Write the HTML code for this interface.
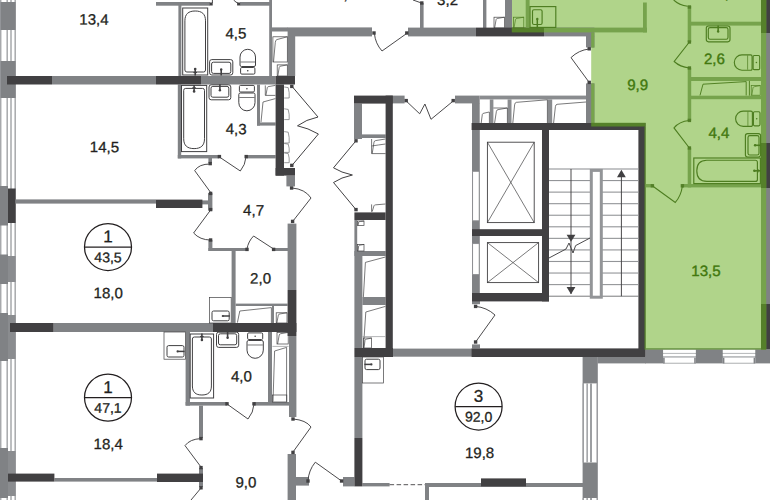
<!DOCTYPE html>
<html lang="ru">
<head>
<meta charset="utf-8">
<title>План этажа</title>
<style>
html,body{margin:0;padding:0;background:#fff;}
body{width:770px;height:500px;overflow:hidden;}
svg{display:block;}
svg text{font-family:"Liberation Sans",Arial,Helvetica,sans-serif;}
</style>
</head>
<body>
<svg width="770" height="500" viewBox="0 0 770 500">
<rect x="0" y="0" width="770" height="500" fill="#fff"/>
<path d="M511.8,0 L770,0 L770,348.6 L644.5,348.6 L644.5,126.4 L591.2,126.4 L591.2,32.4 L511.8,32.4 Z" fill="#b0d48a"/>
<rect x="0.00" y="0.00" width="16.00" height="500.00" fill="#fff"/>
<rect x="-0.05" y="0.00" width="1.50" height="500.00" fill="#a7a9ac"/>
<rect x="6.45" y="0.00" width="1.50" height="500.00" fill="#a7a9ac"/>
<rect x="10.25" y="0.00" width="1.50" height="500.00" fill="#a7a9ac"/>
<rect x="14.45" y="0.00" width="1.50" height="500.00" fill="#a7a9ac"/>
<rect x="0.50" y="2.00" width="15.10" height="28.00" fill="#808285"/>
<rect x="0.50" y="61.00" width="15.10" height="37.00" fill="#808285"/>
<rect x="0.00" y="186.00" width="8.00" height="39.50" fill="#808285"/>
<rect x="8.00" y="188.50" width="7.60" height="34.50" fill="#414042"/>
<rect x="0.00" y="254.50" width="8.00" height="29.50" fill="#808285"/>
<rect x="8.00" y="256.00" width="7.60" height="26.00" fill="#8a8c8f"/>
<rect x="0.00" y="313.00" width="8.00" height="48.00" fill="#808285"/>
<rect x="8.00" y="315.00" width="7.60" height="44.00" fill="#8a8c8f"/>
<rect x="0.00" y="448.00" width="8.00" height="50.00" fill="#808285"/>
<rect x="8.00" y="451.00" width="7.60" height="45.00" fill="#8a8c8f"/>
<rect x="52.00" y="76.00" width="104.00" height="8.50" fill="#808285"/>
<rect x="201.00" y="76.00" width="74.60" height="8.50" fill="#808285"/>
<rect x="156.00" y="2.00" width="54.00" height="3.70" fill="#808285"/>
<rect x="240.00" y="2.00" width="32.00" height="3.70" fill="#808285"/>
<rect x="178.40" y="3.00" width="3.00" height="73.00" fill="#808285"/>
<rect x="177.80" y="84.50" width="3.40" height="73.90" fill="#808285"/>
<rect x="269.20" y="0.00" width="2.80" height="76.00" fill="#808285"/>
<rect x="272.00" y="27.40" width="16.00" height="4.10" fill="#808285"/>
<rect x="287.60" y="27.40" width="84.40" height="9.00" fill="#808285"/>
<rect x="287.60" y="36.00" width="7.60" height="40.00" fill="#808285"/>
<rect x="408.00" y="27.60" width="68.00" height="8.80" fill="#808285"/>
<rect x="544.00" y="27.60" width="50.40" height="8.80" fill="#808285"/>
<rect x="420.00" y="3.00" width="3.60" height="25.00" fill="#808285"/>
<rect x="483.00" y="0.00" width="3.40" height="28.00" fill="#808285"/>
<rect x="505.00" y="0.00" width="7.00" height="28.00" fill="#808285"/>
<rect x="586.00" y="36.00" width="8.40" height="11.40" fill="#808285"/>
<rect x="586.00" y="83.40" width="8.40" height="39.60" fill="#808285"/>
<rect x="392.80" y="95.60" width="11.80" height="7.80" fill="#808285"/>
<rect x="455.00" y="95.60" width="24.70" height="7.80" fill="#808285"/>
<rect x="479.70" y="95.60" width="106.30" height="3.80" fill="#8a8c8f"/>
<rect x="472.00" y="103.00" width="7.70" height="20.00" fill="#808285"/>
<rect x="489.80" y="99.40" width="3.60" height="23.60" fill="#8a8c8f"/>
<rect x="507.60" y="99.40" width="3.90" height="23.60" fill="#8a8c8f"/>
<rect x="547.60" y="99.40" width="4.60" height="23.60" fill="#8a8c8f"/>
<rect x="472.00" y="130.00" width="7.80" height="171.00" fill="#808285"/>
<rect x="472.6" y="171.3" width="6.6" height="49.5" fill="#fff" stroke="#8a8c8f" stroke-width="0.9"/>
<rect x="472.6" y="243.6" width="6.6" height="31" fill="#fff" stroke="#8a8c8f" stroke-width="0.9"/>
<rect x="354.00" y="103.60" width="8.00" height="35.40" fill="#808285"/>
<rect x="362.00" y="134.40" width="23.60" height="3.60" fill="#808285"/>
<rect x="177.80" y="155.00" width="41.20" height="3.40" fill="#808285"/>
<rect x="246.40" y="155.00" width="29.20" height="3.40" fill="#808285"/>
<rect x="257.00" y="84.50" width="3.00" height="41.10" fill="#808285"/>
<rect x="257.00" y="122.40" width="18.60" height="3.20" fill="#808285"/>
<rect x="286.40" y="175.60" width="8.60" height="10.80" fill="#808285"/>
<rect x="15.50" y="199.40" width="140.50" height="4.20" fill="#808285"/>
<rect x="202.00" y="200.40" width="7.00" height="4.00" fill="#808285"/>
<rect x="208.00" y="193.00" width="4.40" height="17.60" fill="#808285"/>
<rect x="208.40" y="240.00" width="4.00" height="11.00" fill="#808285"/>
<rect x="208.40" y="248.00" width="38.60" height="3.00" fill="#808285"/>
<rect x="274.00" y="248.00" width="14.00" height="3.00" fill="#808285"/>
<rect x="231.60" y="251.00" width="4.00" height="72.00" fill="#808285"/>
<rect x="287.60" y="223.60" width="8.80" height="66.40" fill="#808285"/>
<rect x="289.00" y="336.00" width="7.40" height="81.00" fill="#808285"/>
<rect x="235.60" y="303.60" width="52.00" height="2.40" fill="#808285"/>
<rect x="272.00" y="306.00" width="2.00" height="17.00" fill="#808285"/>
<rect x="53.60" y="323.00" width="159.40" height="9.00" fill="#808285"/>
<rect x="185.60" y="332.00" width="4.40" height="73.60" fill="#808285"/>
<rect x="268.00" y="332.00" width="4.00" height="70.00" fill="#808285"/>
<rect x="185.60" y="402.00" width="41.40" height="3.60" fill="#808285"/>
<rect x="254.00" y="402.00" width="35.00" height="3.60" fill="#808285"/>
<rect x="199.00" y="405.60" width="4.00" height="32.40" fill="#808285"/>
<rect x="199.00" y="468.00" width="4.00" height="19.00" fill="#808285"/>
<rect x="54.40" y="478.00" width="102.60" height="3.60" fill="#808285"/>
<rect x="287.60" y="454.00" width="8.40" height="46.00" fill="#808285"/>
<rect x="296.00" y="477.00" width="13.00" height="8.60" fill="#808285"/>
<rect x="343.00" y="477.00" width="11.40" height="9.40" fill="#808285"/>
<rect x="354.40" y="220.00" width="2.80" height="31.00" fill="#808285"/>
<rect x="354.40" y="251.00" width="8.00" height="97.00" fill="#808285"/>
<rect x="354.40" y="251.00" width="31.20" height="5.00" fill="#808285"/>
<rect x="362.40" y="297.00" width="23.20" height="8.00" fill="#808285"/>
<rect x="354.40" y="357.00" width="8.00" height="81.00" fill="#808285"/>
<rect x="392.80" y="348.60" width="79.20" height="8.10" fill="#808285"/>
<rect x="472.00" y="301.00" width="8.00" height="3.20" fill="#808285"/>
<rect x="472.00" y="344.40" width="8.00" height="4.00" fill="#808285"/>
<rect x="582.60" y="357.00" width="15.20" height="143.00" fill="#808285"/>
<rect x="597.60" y="357.00" width="48.40" height="6.40" fill="#808285"/>
<rect x="645.20" y="348.10" width="124.80" height="15.30" fill="#808285"/>
<rect x="362.40" y="483.00" width="27.20" height="3.40" fill="#808285"/>
<rect x="425.00" y="483.00" width="158.00" height="4.00" fill="#808285"/>
<rect x="425.00" y="483.00" width="4.00" height="17.00" fill="#808285"/>
<path d="M389.6,484.7 L425,484.7" stroke="#414042" stroke-width="0.9" stroke-dasharray="4.5,2.5" fill="none"/>
<rect x="583.80" y="383.40" width="13.00" height="79.10" fill="#fff"/>
<rect x="582.60" y="383.40" width="1.40" height="79.10" fill="#9d9fa2"/>
<rect x="586.40" y="383.40" width="1.50" height="79.10" fill="#9d9fa2"/>
<rect x="590.00" y="383.40" width="2.00" height="79.10" fill="#9d9fa2"/>
<rect x="596.60" y="383.40" width="1.20" height="79.10" fill="#9d9fa2"/>
<rect x="583.80" y="498.00" width="13.00" height="2.00" fill="#fff"/>
<rect x="582.60" y="498.00" width="1.40" height="2.00" fill="#9d9fa2"/>
<rect x="586.40" y="498.00" width="1.50" height="2.00" fill="#9d9fa2"/>
<rect x="590.00" y="498.00" width="2.00" height="2.00" fill="#9d9fa2"/>
<rect x="596.60" y="498.00" width="1.20" height="2.00" fill="#9d9fa2"/>
<rect x="663.10" y="349.70" width="32.70" height="13.70" fill="#b5b7b9"/>
<rect x="663.10" y="349.70" width="32.70" height="3.20" fill="#fff"/>
<rect x="663.10" y="353.90" width="32.70" height="2.20" fill="#fff"/>
<rect x="663.10" y="357.70" width="32.70" height="5.00" fill="#fff"/>
<rect x="663.10" y="357.70" width="1.60" height="5.70" fill="#808285"/>
<rect x="694.20" y="357.70" width="1.60" height="5.70" fill="#808285"/>
<rect x="722.80" y="349.70" width="32.40" height="13.70" fill="#b5b7b9"/>
<rect x="722.80" y="349.70" width="32.40" height="3.20" fill="#fff"/>
<rect x="722.80" y="353.90" width="32.40" height="2.20" fill="#fff"/>
<rect x="722.80" y="357.70" width="32.40" height="5.00" fill="#fff"/>
<rect x="722.80" y="357.70" width="1.60" height="5.70" fill="#808285"/>
<rect x="753.60" y="357.70" width="1.60" height="5.70" fill="#808285"/>
<rect x="761.00" y="0.00" width="9.00" height="349.00" fill="#808285"/>
<rect x="7.00" y="76.00" width="45.00" height="8.50" fill="#414042"/>
<rect x="156.00" y="76.00" width="45.00" height="8.50" fill="#414042"/>
<rect x="275.60" y="76.00" width="19.40" height="8.50" fill="#414042"/>
<rect x="275.60" y="84.50" width="8.40" height="91.10" fill="#414042"/>
<rect x="275.60" y="168.00" width="19.40" height="7.60" fill="#414042"/>
<rect x="476.00" y="27.60" width="68.00" height="8.80" fill="#414042"/>
<rect x="354.00" y="95.60" width="38.80" height="8.00" fill="#414042"/>
<rect x="385.60" y="95.60" width="7.20" height="261.40" fill="#414042"/>
<rect x="354.40" y="212.40" width="31.20" height="7.60" fill="#414042"/>
<rect x="354.40" y="348.00" width="38.60" height="9.00" fill="#414042"/>
<rect x="156.00" y="199.60" width="46.40" height="8.40" fill="#414042"/>
<rect x="471.60" y="123.00" width="173.60" height="7.00" fill="#414042"/>
<rect x="542.00" y="130.00" width="7.00" height="171.40" fill="#414042"/>
<rect x="472.00" y="229.20" width="77.00" height="6.80" fill="#414042"/>
<rect x="472.00" y="293.00" width="77.00" height="8.40" fill="#414042"/>
<rect x="638.40" y="123.00" width="6.80" height="233.60" fill="#414042"/>
<rect x="471.60" y="348.40" width="173.60" height="8.60" fill="#414042"/>
<rect x="287.60" y="290.00" width="8.80" height="46.00" fill="#414042"/>
<rect x="213.00" y="323.00" width="83.40" height="9.00" fill="#414042"/>
<rect x="10.00" y="323.00" width="43.60" height="9.00" fill="#414042"/>
<rect x="8.00" y="473.60" width="46.40" height="8.00" fill="#414042"/>
<rect x="157.00" y="473.60" width="46.00" height="8.40" fill="#414042"/>
<rect x="354.40" y="438.00" width="8.00" height="48.40" fill="#414042"/>
<rect x="481.00" y="478.40" width="45.00" height="8.00" fill="#414042"/>
<rect x="761.00" y="0.00" width="9.00" height="33.00" fill="#414042"/>
<rect x="761.00" y="143.00" width="9.00" height="45.00" fill="#414042"/>
<rect x="761.00" y="304.00" width="9.00" height="45.00" fill="#414042"/>
<rect x="511.80" y="27.60" width="32.20" height="4.80" fill="#55802a"/>
<rect x="544.00" y="27.60" width="103.00" height="4.80" fill="#76a34c"/>
<rect x="591.20" y="32.40" width="3.20" height="15.20" fill="#76a34c"/>
<rect x="591.20" y="83.40" width="3.20" height="39.60" fill="#76a34c"/>
<rect x="591.20" y="122.80" width="54.50" height="3.70" fill="#55802a"/>
<rect x="644.50" y="126.40" width="1.20" height="223.20" fill="#55802a"/>
<rect x="645.70" y="348.10" width="115.30" height="1.50" fill="#76a34c"/>
<rect x="761.00" y="0.00" width="5.20" height="349.60" fill="#76a34c"/>
<rect x="761.00" y="0.00" width="5.20" height="33.00" fill="#55802a"/>
<rect x="761.00" y="143.00" width="5.20" height="45.00" fill="#55802a"/>
<rect x="761.00" y="304.00" width="5.20" height="45.60" fill="#55802a"/>
<rect x="525.70" y="0.00" width="3.90" height="27.60" fill="#76a34c"/>
<rect x="643.00" y="2.50" width="3.80" height="29.90" fill="#76a34c"/>
<rect x="687.70" y="6.00" width="3.50" height="36.00" fill="#76a34c"/>
<rect x="687.70" y="68.00" width="3.50" height="52.50" fill="#76a34c"/>
<rect x="687.70" y="147.80" width="3.50" height="39.60" fill="#76a34c"/>
<rect x="691.00" y="21.70" width="70.00" height="3.90" fill="#76a34c"/>
<rect x="691.00" y="77.00" width="70.00" height="4.00" fill="#76a34c"/>
<rect x="691.00" y="95.70" width="70.00" height="3.50" fill="#76a34c"/>
<rect x="681.60" y="184.00" width="79.40" height="3.40" fill="#76a34c"/>
<rect x="645.70" y="184.00" width="7.10" height="3.40" fill="#76a34c"/>
<rect x="549.00" y="168.45" width="89.40" height="1.10" fill="#939598"/>
<rect x="549.00" y="180.01" width="89.40" height="1.10" fill="#939598"/>
<rect x="549.00" y="191.57" width="89.40" height="1.10" fill="#939598"/>
<rect x="549.00" y="203.13" width="89.40" height="1.10" fill="#939598"/>
<rect x="549.00" y="214.69" width="89.40" height="1.10" fill="#939598"/>
<rect x="549.00" y="226.25" width="89.40" height="1.10" fill="#939598"/>
<rect x="549.00" y="237.81" width="89.40" height="1.10" fill="#939598"/>
<rect x="549.00" y="249.37" width="89.40" height="1.10" fill="#939598"/>
<rect x="549.00" y="260.93" width="89.40" height="1.10" fill="#939598"/>
<rect x="549.00" y="272.49" width="89.40" height="1.10" fill="#939598"/>
<rect x="549.00" y="284.05" width="89.40" height="1.10" fill="#939598"/>
<rect x="549.00" y="295.76" width="89.40" height="0.80" fill="#58595b"/>
<rect x="591.3" y="170.4" width="10" height="126.8" fill="#fff" stroke="#939598" stroke-width="3"/>
<path d="M571.00,169.00 L571.00,294.00" fill="none" stroke="#414042" stroke-width="0.95" />
<path d="M621.40,172.00 L621.40,296.20" fill="none" stroke="#414042" stroke-width="0.95" />
<path d="M566.6,234.8 L575.4,234.8 L571,241.8 Z" fill="#414042" stroke="none" stroke-width="0" />
<path d="M566.6,287 L575.4,287 L571,294.2 Z" fill="#414042" stroke="none" stroke-width="0" />
<path d="M617,177.2 L625.8,177.2 L621.4,169.8 Z" fill="#414042" stroke="none" stroke-width="0" />
<path d="M549.00,258.00 L566.00,249.00 L569.00,243.00 L573.00,253.00 L575.60,245.60 L590.00,238.00" fill="none" stroke="#414042" stroke-width="0.95" />
<rect x="487.4" y="142.2" width="46.8" height="80.4" fill="none" stroke="#414042" stroke-width="0.9"/>
<path d="M487.40,142.20 L534.20,222.60" fill="none" stroke="#414042" stroke-width="0.7" />
<path d="M534.20,142.20 L487.40,222.60" fill="none" stroke="#414042" stroke-width="0.7" />
<rect x="487.4" y="242.6" width="51.2" height="40" fill="none" stroke="#414042" stroke-width="0.9"/>
<path d="M487.40,242.60 L538.60,282.60" fill="none" stroke="#414042" stroke-width="0.7" />
<path d="M538.60,242.60 L487.40,282.60" fill="none" stroke="#414042" stroke-width="0.7" />
<rect x="209.70" y="2.50" width="3.00" height="3.00" fill="#414042"/>
<rect x="237.10" y="2.50" width="3.00" height="3.00" fill="#414042"/>
<path d="M212.4,0 L212.4,3" fill="none" stroke="#414042" stroke-width="0.95" />
<path d="M233.6,0 Q236,2.5 238.4,3.4" fill="none" stroke="#414042" stroke-width="0.95" />
<rect x="372.30" y="31.30" width="3.40" height="3.40" fill="#414042"/>
<rect x="405.10" y="31.30" width="3.40" height="3.40" fill="#414042"/>
<path d="M406.80,33.40 L382.00,51.00 A30.41,30.41 0 0 1 374.40,33.40" fill="none" stroke="#414042" stroke-width="0.95" />
<rect x="420.10" y="1.30" width="3.40" height="3.40" fill="#414042"/>
<path d="M413,0 L421.5,3" fill="none" stroke="#414042" stroke-width="0.95" />
<rect x="587.50" y="47.10" width="3.40" height="3.40" fill="#414042"/>
<rect x="587.50" y="80.70" width="3.40" height="3.40" fill="#414042"/>
<path d="M589.20,82.40 L571.00,57.60 A30.76,30.76 0 0 1 589.20,49.00" fill="none" stroke="#414042" stroke-width="0.95" />
<rect x="404.50" y="98.90" width="3.40" height="3.40" fill="#414042"/>
<rect x="451.50" y="98.90" width="3.40" height="3.40" fill="#414042"/>
<path d="M406.20,101.00 L419.70,113.80 L424.90,104.00 L431.00,119.30 L453.20,101.00" fill="none" stroke="#414042" stroke-width="0.95" />
<rect x="354.30" y="139.10" width="3.40" height="3.40" fill="#414042"/>
<rect x="354.30" y="207.90" width="3.40" height="3.40" fill="#414042"/>
<path d="M356,140.8 L333.5,167.8 Q341,172.6 352.4,175 Q341,177.4 333.5,182.5 L356,209.6" fill="none" stroke="#414042" stroke-width="1.0" />
<rect x="290.10" y="84.70" width="3.40" height="3.40" fill="#414042"/>
<rect x="290.10" y="163.70" width="3.40" height="3.40" fill="#414042"/>
<path d="M292,86.4 L318,117 Q306,119.5 297.5,125.8 Q308,128 318.4,134 L292,165.4" fill="none" stroke="#414042" stroke-width="1.0" />
<rect x="289.90" y="186.30" width="3.40" height="3.40" fill="#414042"/>
<rect x="290.90" y="219.70" width="3.40" height="3.40" fill="#414042"/>
<path d="M292,188 Q305,189 311,198 L293,221" fill="none" stroke="#414042" stroke-width="0.95" />
<rect x="217.70" y="154.90" width="3.40" height="3.40" fill="#414042"/>
<rect x="244.50" y="154.90" width="3.40" height="3.40" fill="#414042"/>
<path d="M219.40,157.00 L240.30,171.00 A25.16,25.16 0 0 0 246.00,157.00" fill="none" stroke="#414042" stroke-width="0.95" />
<rect x="208.40" y="158.00" width="3.60" height="5.00" fill="#808285"/>
<rect x="208.50" y="161.90" width="3.40" height="3.40" fill="#414042"/>
<path d="M210.2,164 Q199,164 194.7,170.6 L210.8,192.7" fill="none" stroke="#414042" stroke-width="0.95" />
<rect x="208.90" y="191.70" width="3.40" height="3.40" fill="#414042"/>
<rect x="208.90" y="207.90" width="3.40" height="3.40" fill="#414042"/>
<rect x="208.90" y="238.30" width="3.40" height="3.40" fill="#414042"/>
<path d="M210.6,210 L193.6,233 Q200,240 210.6,240" fill="none" stroke="#414042" stroke-width="0.95" />
<rect x="245.30" y="247.70" width="3.40" height="3.40" fill="#414042"/>
<rect x="271.90" y="247.70" width="3.40" height="3.40" fill="#414042"/>
<path d="M273.60,249.00 L253.60,236.00 A23.85,23.85 0 0 0 247.00,249.00" fill="none" stroke="#414042" stroke-width="0.95" />
<rect x="225.30" y="402.10" width="3.40" height="3.40" fill="#414042"/>
<rect x="252.30" y="402.10" width="3.40" height="3.40" fill="#414042"/>
<path d="M227.00,404.00 L248.00,419.00 A25.81,25.81 0 0 0 254.00,404.00" fill="none" stroke="#414042" stroke-width="0.95" />
<rect x="199.30" y="436.90" width="3.40" height="3.40" fill="#414042"/>
<rect x="199.30" y="465.90" width="3.40" height="3.40" fill="#414042"/>
<path d="M201,438.6 Q190,439 185,445.6 L201,467" fill="none" stroke="#414042" stroke-width="0.95" />
<rect x="199.30" y="486.10" width="3.40" height="3.40" fill="#414042"/>
<path d="M201.00,488.00 L191.00,500.00" fill="none" stroke="#414042" stroke-width="0.95" />
<rect x="291.30" y="417.30" width="3.40" height="3.40" fill="#414042"/>
<rect x="291.30" y="450.70" width="3.40" height="3.40" fill="#414042"/>
<path d="M293,419 Q306,420 311,427 L293,452" fill="none" stroke="#414042" stroke-width="0.95" />
<rect x="306.30" y="479.30" width="3.40" height="3.40" fill="#414042"/>
<rect x="339.90" y="479.30" width="3.40" height="3.40" fill="#414042"/>
<path d="M341.60,481.00 L315.30,462.20 A32.33,32.33 0 0 0 308.00,481.00" fill="none" stroke="#414042" stroke-width="0.95" />
<rect x="473.90" y="304.70" width="3.40" height="3.40" fill="#414042"/>
<rect x="473.90" y="340.30" width="3.40" height="3.40" fill="#414042"/>
<path d="M475.60,342.00 L495.00,315.00 A33.25,33.25 0 0 0 475.60,306.40" fill="none" stroke="#414042" stroke-width="0.95" />
<path d="M673.7,0 Q679,5 687.7,6.2" fill="none" stroke="#4d7d20" stroke-width="1.1" />
<rect x="687.70" y="5.30" width="3.40" height="3.40" fill="#55802a"/>
<rect x="687.70" y="40.30" width="3.40" height="3.40" fill="#55802a"/>
<rect x="687.70" y="66.30" width="3.40" height="3.40" fill="#55802a"/>
<path d="M689.4,42 L674.2,61.5 Q680,67 689.4,68" fill="none" stroke="#4d7d20" stroke-width="1.1" />
<rect x="687.70" y="118.70" width="3.40" height="3.40" fill="#55802a"/>
<rect x="687.70" y="146.30" width="3.40" height="3.40" fill="#55802a"/>
<path d="M689.4,148 L674,127.9 Q679,121.5 689.4,120.5" fill="none" stroke="#4d7d20" stroke-width="1.1" />
<rect x="650.70" y="184.10" width="3.40" height="3.40" fill="#55802a"/>
<rect x="680.70" y="184.10" width="3.40" height="3.40" fill="#55802a"/>
<path d="M652.6,186 L675.3,202.4 Q681,196 682.4,186" fill="none" stroke="#4d7d20" stroke-width="1.1" />
<g transform="translate(182.7,8)"><rect x="0" y="0" width="25" height="67" fill="none" stroke="#414042" stroke-width="1.0"/><path d="M2.2,62.0 L2.2,12.785 C2.2,5.935499999999999 5.805,3.0 12.5,3.0 C19.195,3.0 22.8,5.935499999999999 22.8,12.785 L22.8,62.0 Q22.8,64.0 20.8,64.0 L4.2,64.0 Q2.2,64.0 2.2,62.0 Z" fill="none" stroke="#414042" stroke-width="1.0"/><path d="M12.5,60.5 L12.5,67.5" stroke="#414042" stroke-width="1.6" fill="none"/><circle cx="12.5" cy="61" r="1.3" fill="#414042"/><path d="M10.7,64.5 L14.3,64.5" stroke="#414042" stroke-width="1.2" fill="none"/></g>
<g transform="translate(209.6,59.6)"><rect x="0" y="0" width="23.2" height="15.4" rx="2.2" fill="none" stroke="#414042" stroke-width="1.0"/><rect x="2" y="2.6" width="19.2" height="11.2" rx="1.8" fill="none" stroke="#414042" stroke-width="1.0"/><path d="M11.6,9.4 L11.6,15.9" stroke="#414042" stroke-width="1.6" fill="none"/><circle cx="11.6" cy="9.9" r="1.2" fill="#414042"/></g>
<g transform="translate(240,49.3)"><rect x="0.6" y="18.2" width="14.3" height="6.6" rx="1.2" fill="none" stroke="#414042" stroke-width="1.0"/><path d="M0,15.7 L0,7.75 A7.75,7.75 0 0 1 15.5,7.75 L15.5,15.7 Q15.5,17.2 14.0,17.2 L1.5,17.2 Q0,17.2 0,15.7 Z" fill="none" stroke="#414042" stroke-width="1.0"/><path d="M0.5,12.7 L15.0,12.7" stroke="#414042" stroke-width="0.7" fill="none"/><circle cx="7.75" cy="21.5" r="0.8" fill="#414042"/></g>
<g transform="translate(181.5,151.6) scale(1,-1)"><rect x="0" y="0" width="25.2" height="66.2" fill="none" stroke="#414042" stroke-width="1.0"/><path d="M2.2,61.2 L2.2,12.879999999999999 C2.2,5.9639999999999995 5.84,3.0 12.600000000000001,3.0 C19.36,3.0 23.0,5.9639999999999995 23.0,12.879999999999999 L23.0,61.2 Q23.0,63.2 21.0,63.2 L4.2,63.2 Q2.2,63.2 2.2,61.2 Z" fill="none" stroke="#414042" stroke-width="1.0"/><path d="M12.6,59.7 L12.6,66.7" stroke="#414042" stroke-width="1.6" fill="none"/><circle cx="12.6" cy="60.2" r="1.3" fill="#414042"/><path d="M10.799999999999999,63.7 L14.4,63.7" stroke="#414042" stroke-width="1.2" fill="none"/></g>
<g transform="translate(209,99.8) scale(1,-1)"><rect x="0" y="0" width="21.8" height="15.0" rx="2.2" fill="none" stroke="#414042" stroke-width="1.0"/><rect x="2" y="2.6" width="17.8" height="10.8" rx="1.8" fill="none" stroke="#414042" stroke-width="1.0"/><path d="M10.9,9.0 L10.9,15.5" stroke="#414042" stroke-width="1.6" fill="none"/><circle cx="10.9" cy="9.5" r="1.2" fill="#414042"/></g>
<g transform="translate(238.8,110.8) scale(1,-1)"><rect x="0.6" y="18.8" width="15.0" height="6.6" rx="1.2" fill="none" stroke="#414042" stroke-width="1.0"/><path d="M0,16.3 L0,8.1 A8.1,8.1 0 0 1 16.2,8.1 L16.2,16.3 Q16.2,17.8 14.7,17.8 L1.5,17.8 Q0,17.8 0,16.3 Z" fill="none" stroke="#414042" stroke-width="1.0"/><path d="M0.5,13.3 L15.7,13.3" stroke="#414042" stroke-width="0.7" fill="none"/><circle cx="8.1" cy="22.099999999999998" r="0.8" fill="#414042"/></g>
<g transform="translate(190.2,398) scale(1,-1)"><rect x="0" y="0" width="23.4" height="64" fill="none" stroke="#414042" stroke-width="1.0"/><path d="M2.2,59.0 L2.2,12.025 C2.2,5.7075 5.525,3.0 11.7,3.0 C17.875,3.0 21.2,5.7075 21.2,12.025 L21.2,59.0 Q21.2,61.0 19.2,61.0 L4.2,61.0 Q2.2,61.0 2.2,59.0 Z" fill="none" stroke="#414042" stroke-width="1.0"/><path d="M11.7,57.5 L11.7,64.5" stroke="#414042" stroke-width="1.6" fill="none"/><circle cx="11.7" cy="58" r="1.3" fill="#414042"/><path d="M9.899999999999999,61.5 L13.5,61.5" stroke="#414042" stroke-width="1.2" fill="none"/></g>
<g transform="translate(216.5,347.4) scale(1,-1)"><rect x="0" y="0" width="22.2" height="15.2" rx="2.2" fill="none" stroke="#414042" stroke-width="1.0"/><rect x="2" y="2.6" width="18.2" height="11.0" rx="1.8" fill="none" stroke="#414042" stroke-width="1.0"/><path d="M11.1,9.2 L11.1,15.7" stroke="#414042" stroke-width="1.6" fill="none"/><circle cx="11.1" cy="9.7" r="1.2" fill="#414042"/></g>
<g transform="translate(247,358.3) scale(1,-1)"><rect x="0.6" y="18.8" width="15.100000000000001" height="6.6" rx="1.2" fill="none" stroke="#414042" stroke-width="1.0"/><path d="M0,16.3 L0,8.15 A8.15,8.15 0 0 1 16.3,8.15 L16.3,16.3 Q16.3,17.8 14.8,17.8 L1.5,17.8 Q0,17.8 0,16.3 Z" fill="none" stroke="#414042" stroke-width="1.0"/><path d="M0.5,13.3 L15.8,13.3" stroke="#414042" stroke-width="0.7" fill="none"/><circle cx="8.15" cy="22.099999999999998" r="0.8" fill="#414042"/></g>
<rect x="209.6" y="297.4" width="21.599999999999994" height="25.600000000000023" fill="#fff" stroke="#414042" stroke-width="0.7"/>
<rect x="212" y="311" width="17.19999999999999" height="9.800000000000011" rx="1.6" fill="none" stroke="#414042" stroke-width="1.0"/>
<path d="M229.8,316 l-7,0" stroke="#414042" stroke-width="1.5" fill="none"/>
<circle cx="222.8" cy="316" r="1.1" fill="#414042"/>
<rect x="164" y="332" width="21.400000000000006" height="27.19999999999999" fill="#fff" stroke="#414042" stroke-width="0.7"/>
<rect x="167" y="345.6" width="17" height="11.399999999999977" rx="1.6" fill="none" stroke="#414042" stroke-width="1.0"/>
<path d="M184.6,351.4 l-7,0" stroke="#414042" stroke-width="1.5" fill="none"/>
<circle cx="177.6" cy="351.4" r="1.1" fill="#414042"/>
<rect x="362.6" y="357" width="21.0" height="26" fill="#fff" stroke="#414042" stroke-width="0.7"/>
<rect x="365" y="359.2" width="15" height="10.400000000000034" rx="1.6" fill="none" stroke="#414042" stroke-width="1.0"/>
<path d="M364.4,364.4 l7,0" stroke="#414042" stroke-width="1.5" fill="none"/>
<circle cx="371.4" cy="364.4" r="1.1" fill="#414042"/>
<g transform="translate(706.3,41.8) scale(1,-1)"><rect x="0" y="0" width="23.7" height="15.8" rx="2.2" fill="none" stroke="#4d7d20" stroke-width="1.15"/><rect x="2" y="2.6" width="19.7" height="11.600000000000001" rx="1.8" fill="none" stroke="#4d7d20" stroke-width="1.15"/><path d="M11.85,9.8 L11.85,16.3" stroke="#4d7d20" stroke-width="1.6" fill="none"/><circle cx="11.85" cy="10.3" r="1.2" fill="#4d7d20"/></g>
<g transform="translate(734.3,70.2) rotate(-90)"><rect x="0.6" y="18.8" width="14.100000000000001" height="6.6" rx="1.2" fill="none" stroke="#4d7d20" stroke-width="1.15"/><path d="M0,16.3 L0,7.65 A7.65,7.65 0 0 1 15.3,7.65 L15.3,16.3 Q15.3,17.8 13.8,17.8 L1.5,17.8 Q0,17.8 0,16.3 Z" fill="none" stroke="#4d7d20" stroke-width="1.15"/><path d="M0.5,13.3 L14.8,13.3" stroke="#4d7d20" stroke-width="0.7" fill="none"/><circle cx="7.65" cy="22.099999999999998" r="0.8" fill="#4d7d20"/></g>
<g transform="translate(735.6,126.4) rotate(-90)"><rect x="0.6" y="17.8" width="14.100000000000001" height="6.6" rx="1.2" fill="none" stroke="#4d7d20" stroke-width="1.15"/><path d="M0,15.3 L0,7.65 A7.65,7.65 0 0 1 15.3,7.65 L15.3,15.3 Q15.3,16.8 13.8,16.8 L1.5,16.8 Q0,16.8 0,15.3 Z" fill="none" stroke="#4d7d20" stroke-width="1.15"/><path d="M0.5,12.3 L14.8,12.3" stroke="#4d7d20" stroke-width="0.7" fill="none"/><circle cx="7.65" cy="21.099999999999998" r="0.8" fill="#4d7d20"/></g>
<g transform="translate(745.4,157) rotate(-90)"><rect x="0" y="0" width="23.4" height="15.2" rx="2.2" fill="none" stroke="#4d7d20" stroke-width="1.15"/><rect x="2" y="2.6" width="19.4" height="11.0" rx="1.8" fill="none" stroke="#4d7d20" stroke-width="1.15"/><path d="M11.7,9.2 L11.7,15.7" stroke="#4d7d20" stroke-width="1.6" fill="none"/><circle cx="11.7" cy="9.7" r="1.2" fill="#4d7d20"/></g>
<g transform="translate(693.8,183.6) rotate(-90)"><rect x="0" y="0" width="25.6" height="66.6" fill="none" stroke="#4d7d20" stroke-width="1.15"/><path d="M2.2,61.599999999999994 L2.2,13.07 C2.2,6.021 5.91,3.0 12.8,3.0 C19.69,3.0 23.400000000000002,6.021 23.400000000000002,13.07 L23.400000000000002,61.599999999999994 Q23.400000000000002,63.599999999999994 21.400000000000002,63.599999999999994 L4.2,63.599999999999994 Q2.2,63.599999999999994 2.2,61.599999999999994 Z" fill="none" stroke="#4d7d20" stroke-width="1.15"/><path d="M12.8,60.099999999999994 L12.8,67.1" stroke="#4d7d20" stroke-width="1.6" fill="none"/><circle cx="12.8" cy="60.599999999999994" r="1.3" fill="#4d7d20"/><path d="M11.0,64.1 L14.600000000000001,64.1" stroke="#4d7d20" stroke-width="1.2" fill="none"/></g>
<rect x="530" y="6.6" width="25.8" height="20.8" fill="none" stroke="#4d7d20" stroke-width="1.15"/>
<rect x="532.5" y="9.7" width="9.6" height="14.8" rx="1.5" fill="none" stroke="#4d7d20" stroke-width="1.15"/>
<path d="M537.3,19 L537.3,28.5" stroke="#4d7d20" stroke-width="1.5"/><circle cx="537.3" cy="19" r="1.2" fill="#4d7d20"/>
<rect x="494" y="17.2" width="10.600000000000023" height="10.8" fill="none" stroke="#414042" stroke-width="0.7"/>
<path d="M494.6,28 L496.12,19.576 Q496.42,18.496 497.72,18.387999999999998 L504.6,17.2" fill="none" stroke="#414042" stroke-width="0.7" />
<rect x="272.9" y="36.8" width="14.400000000000034" height="25.200000000000003" fill="none" stroke="#414042" stroke-width="0.7"/>
<path d="M273.5,62 L275.29999999999995,42.343999999999994 Q275.59999999999997,39.824 276.9,39.571999999999996 L287.3,36.8" fill="none" stroke="#414042" stroke-width="0.7" />
<rect x="277.2" y="64.9" width="10.100000000000023" height="11.099999999999994" fill="none" stroke="#414042" stroke-width="0.7"/>
<path d="M277.8,76 L279.21999999999997,67.342 Q279.52,66.232 280.82,66.12100000000001 L287.3,64.9" fill="none" stroke="#414042" stroke-width="0.7" />
<rect x="513.4" y="17.2" width="10.399999999999977" height="10.8" fill="none" stroke="#4d7d20" stroke-width="0.7"/>
<path d="M514.0,28 L515.48,19.576 Q515.78,18.496 517.08,18.387999999999998 L523.8,17.2" fill="none" stroke="#4d7d20" stroke-width="0.7" />
<path d="M481.20000000000005,123 L482.32,114.42 Q482.62,113.32 483.92,113.21 L489.2,112" fill="none" stroke="#414042" stroke-width="0.7" />
<path d="M489.40,112.00 L489.40,123.00" fill="none" stroke="#414042" stroke-width="0.7" />
<path d="M494.6,123 L496.4,111.3 Q496.7,109.8 498.0,109.65 L507.2,108" fill="none" stroke="#414042" stroke-width="0.7" />
<path d="M493.40,108.00 L507.40,108.00 L507.40,123.00" fill="none" stroke="#414042" stroke-width="0.7" />
<path d="M512.8000000000001,123 L514.6,104.904 Q514.9,102.584 516.2,102.352 L547.2,99.8" fill="none" stroke="#414042" stroke-width="0.7" />
<path d="M547.40,99.60 L547.40,123.00" fill="none" stroke="#414042" stroke-width="0.7" />
<path d="M553.6,123 L555.4,106.62 Q555.6999999999999,104.52 557.0,104.31 L586,102" fill="none" stroke="#414042" stroke-width="0.7" />
<path d="M265.90000000000003,95.4 L267.32,87.60000000000001 Q267.62,86.60000000000001 268.92,86.5 L275.4,85.4" fill="none" stroke="#414042" stroke-width="0.7" />
<path d="M265.30,85.40 L265.30,95.40 L275.40,95.40" fill="none" stroke="#414042" stroke-width="0.7" />
<path d="M261,122 L263,102 L275.4,98.6" fill="none" stroke="#414042" stroke-width="0.7" />
<path d="M284.2,87 L288.2,87.6 Q289.6,92.5 289.2,98 L284.2,98" fill="none" stroke="#6d6e71" stroke-width="0.7" />
<path d="M284.2,108.8 L288.2,109.39999999999999 Q289.6,114.19999999999999 289.2,119.6 L284.2,119.6" fill="none" stroke="#6d6e71" stroke-width="0.7" />
<path d="M284.2,131.6 L288.2,132.2 Q289.6,137.3 289.2,143 L284.2,143" fill="none" stroke="#6d6e71" stroke-width="0.7" />
<path d="M284.2,143.5 L288.2,144.1 Q289.6,147.95 289.2,152.4 L284.2,152.4" fill="none" stroke="#6d6e71" stroke-width="0.7" />
<path d="M284.2,153 L288.2,153.6 Q289.6,157.85 289.2,162.7 L284.2,162.7" fill="none" stroke="#6d6e71" stroke-width="0.7" />
<path d="M372.20000000000005,153.6 L374.0,142.212 Q374.3,140.752 375.6,140.606 L385.4,139" fill="none" stroke="#414042" stroke-width="0.7" />
<path d="M371.60,139.00 L371.60,153.60 L385.60,153.60" fill="none" stroke="#414042" stroke-width="0.7" />
<path d="M371.6,146 Q378,145 385.4,144" fill="none" stroke="#414042" stroke-width="0.7" />
<path d="M372.20000000000005,211.6 L374.0,205.672 Q374.3,204.912 375.6,204.836 L385.4,204" fill="none" stroke="#414042" stroke-width="0.7" />
<path d="M371.60,204.40 L371.60,211.80" fill="none" stroke="#414042" stroke-width="0.7" />
<rect x="357.4" y="221" width="6.600000000000023" height="4.599999999999994" fill="none" stroke="#414042" stroke-width="0.7"/>
<path d="M358.0,225.6 L358.71999999999997,222.012 Q359.02,221.552 360.32,221.506 L364,221" fill="none" stroke="#414042" stroke-width="0.7" />
<rect x="357.4" y="244.4" width="6.600000000000023" height="6.599999999999994" fill="none" stroke="#414042" stroke-width="0.7"/>
<path d="M358.0,251 L358.71999999999997,245.852 Q359.02,245.192 360.32,245.126 L364,244.4" fill="none" stroke="#414042" stroke-width="0.7" />
<path d="M363.4,297 L365.4,262.4 L385.4,257" fill="none" stroke="#414042" stroke-width="0.7" />
<path d="M363.4,348 L365.8,312 L385.4,306.4" fill="none" stroke="#414042" stroke-width="0.7" />
<rect x="363.4" y="338" width="8.200000000000045" height="10" fill="none" stroke="#414042" stroke-width="0.7"/>
<path d="M364.0,348 L365.03999999999996,340.2 Q365.34,339.2 366.64,339.1 L371.6,338" fill="none" stroke="#414042" stroke-width="0.7" />
<path d="M362.60,336.60 L385.40,336.60" fill="none" stroke="#939598" stroke-width="0.7" />
<rect x="236" y="306.4" width="36" height="16.6" fill="#fff" stroke="none"/>
<path d="M237.4,322.6 L239.8,311 L271.4,307.6 L271.4,323" fill="none" stroke="#414042" stroke-width="0.7" />
<rect x="276.2" y="312.8" width="10.800000000000011" height="10.199999999999989" fill="none" stroke="#414042" stroke-width="0.7"/>
<path d="M276.8,323 L278.36,315.044 Q278.66,314.024 279.96000000000004,313.922 L287,312.8" fill="none" stroke="#414042" stroke-width="0.7" />
<rect x="277" y="332.4" width="11.199999999999989" height="11.600000000000023" fill="none" stroke="#414042" stroke-width="0.7"/>
<path d="M277.6,344 L279.24,334.952 Q279.54,333.792 280.84000000000003,333.676 L288.2,332.4" fill="none" stroke="#414042" stroke-width="0.7" />
<path d="M273,401.6 L274.6,351 L286.6,347.4 L286.6,401.6" fill="none" stroke="#414042" stroke-width="0.7" />
<path d="M272.40,346.40 L288.60,346.40" fill="none" stroke="#939598" stroke-width="0.7" />
<rect x="272.4" y="395" width="14.4" height="7" fill="none" stroke="#414042" stroke-width="0.7"/>
<path d="M700,95.4 L703,84.2 L746.2,81.6 L746.2,95.4" fill="none" stroke="#4d7d20" stroke-width="0.95" />
<path d="M749.40,81.00 L749.40,95.60" fill="none" stroke="#4d7d20" stroke-width="0.95" />
<rect x="751.2" y="85.6" width="9.0" height="9.600000000000009" fill="none" stroke="#4d7d20" stroke-width="0.7"/>
<path d="M751.8000000000001,95.2 L753.0,87.71199999999999 Q753.3,86.752 754.6,86.65599999999999 L760.2,85.6" fill="none" stroke="#4d7d20" stroke-width="0.7" />
<text x="94.00" y="24.60" font-size="15" fill="#231f20" stroke="#231f20" stroke-width="0.3" text-anchor="middle" transform="rotate(0.4 94.00 19.60)">13,4</text>
<text x="104.50" y="152.20" font-size="15" fill="#231f20" stroke="#231f20" stroke-width="0.3" text-anchor="middle" transform="rotate(0.4 104.50 147.20)">14,5</text>
<text x="236.00" y="38.60" font-size="15" fill="#231f20" stroke="#231f20" stroke-width="0.3" text-anchor="middle" transform="rotate(0.4 236.00 33.60)">4,5</text>
<text x="236.20" y="134.20" font-size="15" fill="#231f20" stroke="#231f20" stroke-width="0.3" text-anchor="middle" transform="rotate(0.4 236.20 129.20)">4,3</text>
<text x="253.60" y="215.40" font-size="15" fill="#231f20" stroke="#231f20" stroke-width="0.3" text-anchor="middle" transform="rotate(0.4 253.60 210.40)">4,7</text>
<text x="260.60" y="283.60" font-size="15" fill="#231f20" stroke="#231f20" stroke-width="0.3" text-anchor="middle" transform="rotate(0.4 260.60 278.60)">2,0</text>
<text x="241.40" y="381.60" font-size="15" fill="#231f20" stroke="#231f20" stroke-width="0.3" text-anchor="middle" transform="rotate(0.4 241.40 376.60)">4,0</text>
<text x="246.00" y="487.60" font-size="15" fill="#231f20" stroke="#231f20" stroke-width="0.3" text-anchor="middle" transform="rotate(0.4 246.00 482.60)">9,0</text>
<text x="108.20" y="298.20" font-size="15" fill="#231f20" stroke="#231f20" stroke-width="0.3" text-anchor="middle" transform="rotate(0.4 108.20 293.20)">18,0</text>
<text x="108.20" y="449.20" font-size="15" fill="#231f20" stroke="#231f20" stroke-width="0.3" text-anchor="middle" transform="rotate(0.4 108.20 444.20)">18,4</text>
<text x="479.60" y="458.00" font-size="15" fill="#231f20" stroke="#231f20" stroke-width="0.3" text-anchor="middle" transform="rotate(0.4 479.60 453.00)">19,8</text>
<text x="637.70" y="90.00" font-size="15" fill="#42780f" stroke="#42780f" stroke-width="0.4" text-anchor="middle" transform="rotate(0.4 637.70 85.00)">9,9</text>
<text x="714.40" y="64.00" font-size="15" fill="#42780f" stroke="#42780f" stroke-width="0.4" text-anchor="middle" transform="rotate(0.4 714.40 59.00)">2,6</text>
<text x="719.00" y="138.00" font-size="15" fill="#42780f" stroke="#42780f" stroke-width="0.4" text-anchor="middle" transform="rotate(0.4 719.00 133.00)">4,4</text>
<text x="706.00" y="276.00" font-size="15" fill="#42780f" stroke="#42780f" stroke-width="0.4" text-anchor="middle" transform="rotate(0.4 706.00 271.00)">13,5</text>
<text x="447.60" y="5.00" font-size="15" fill="#231f20" stroke="#231f20" stroke-width="0.3" text-anchor="middle" transform="rotate(0.4 447.60 0.00)">3,2</text>
<text x="345.60" y="-0.60" font-size="15" fill="#231f20" stroke="#231f20" stroke-width="0.3" text-anchor="middle" transform="rotate(0.4 345.60 -5.60)">4,8</text>
<text x="727.00" y="-1.20" font-size="15" fill="#42780f" stroke="#42780f" stroke-width="0.3" text-anchor="middle" transform="rotate(0.4 727.00 -6.20)">3,5</text>
<circle cx="108" cy="247" r="23.5" fill="#fff" stroke="#231f20" stroke-width="1.25"/>
<path d="M84.6,247 L131.4,247" stroke="#231f20" stroke-width="1.25"/>
<text x="108.00" y="242.40" font-size="17" fill="#231f20" stroke="#231f20" stroke-width="0.3" text-anchor="middle" transform="rotate(0.4 108.00 237.40)">1</text>
<text x="108.00" y="262.20" font-size="14" fill="#231f20" stroke="#231f20" stroke-width="0.3" text-anchor="middle" transform="rotate(0.4 108.00 257.20)">43,5</text>
<circle cx="108" cy="397.6" r="23.5" fill="#fff" stroke="#231f20" stroke-width="1.25"/>
<path d="M84.6,397.6 L131.4,397.6" stroke="#231f20" stroke-width="1.25"/>
<text x="108.00" y="393.00" font-size="17" fill="#231f20" stroke="#231f20" stroke-width="0.3" text-anchor="middle" transform="rotate(0.4 108.00 388.00)">1</text>
<text x="108.00" y="412.80" font-size="14" fill="#231f20" stroke="#231f20" stroke-width="0.3" text-anchor="middle" transform="rotate(0.4 108.00 407.80)">47,1</text>
<circle cx="478.6" cy="406.5" r="23.5" fill="#fff" stroke="#231f20" stroke-width="1.25"/>
<path d="M455.20000000000005,406.5 L502.0,406.5" stroke="#231f20" stroke-width="1.25"/>
<text x="478.60" y="401.90" font-size="17" fill="#231f20" stroke="#231f20" stroke-width="0.3" text-anchor="middle" transform="rotate(0.4 478.60 396.90)">3</text>
<text x="478.60" y="421.70" font-size="14" fill="#231f20" stroke="#231f20" stroke-width="0.3" text-anchor="middle" transform="rotate(0.4 478.60 416.70)">92,0</text>
</svg>
</body>
</html>
